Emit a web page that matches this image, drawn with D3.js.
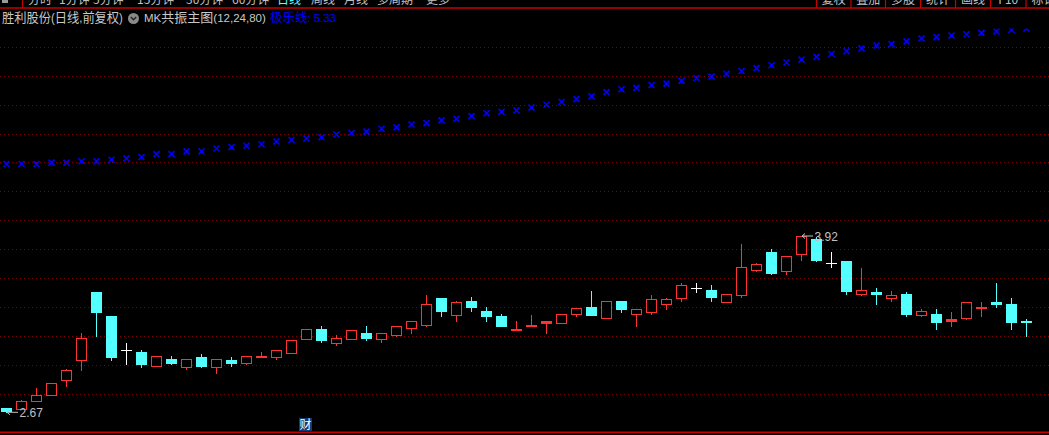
<!DOCTYPE html>
<html><head><meta charset="utf-8">
<script src="https://cdn.jsdelivr.net/npm/d3@7/dist/d3.min.js"></script>
<style>html,body{margin:0;padding:0;background:#000;overflow:hidden}svg{display:block}</style>
</head><body><svg id="c" width="1049" height="435"></svg>
<script>
// ---- data (daily bars, 前复权) ----
const openP  = [2.70,2.69,2.75,2.79,2.90,3.04,3.52,3.35,3.11,3.10,3.00,3.05,2.99,3.06,2.99,3.04,3.02,3.06,3.06,3.09,3.19,3.26,3.16,3.19,3.23,3.19,3.22,3.27,3.29,3.48,3.36,3.46,3.39,3.35,3.25,3.28,3.30,3.30,3.37,3.42,3.34,3.46,3.37,3.38,3.44,3.48,3.55,3.54,3.45,3.50,3.68,3.81,3.67,3.79,3.90,3.73,3.74,3.51,3.52,3.48,3.51,3.36,3.37,3.32,3.34,3.41,3.45,3.44,3.32];
const highP  = [2.70,2.76,2.84,2.88,2.98,3.23,3.52,3.35,3.16,3.11,3.07,3.07,3.05,3.08,3.05,3.06,3.07,3.10,3.11,3.18,3.26,3.28,3.22,3.25,3.28,3.23,3.28,3.32,3.50,3.48,3.46,3.49,3.42,3.37,3.32,3.36,3.32,3.37,3.41,3.53,3.46,3.46,3.40,3.50,3.48,3.59,3.59,3.57,3.51,3.86,3.73,3.83,3.78,3.92,3.91,3.81,3.74,3.69,3.55,3.53,3.52,3.40,3.40,3.38,3.45,3.45,3.59,3.48,3.33];
const lowP   = [2.67,2.69,2.75,2.79,2.86,2.97,3.21,3.04,3.01,2.99,3.00,3.01,2.98,2.99,2.95,3.00,3.01,3.06,3.05,3.09,3.19,3.17,3.15,3.19,3.18,3.17,3.21,3.23,3.28,3.35,3.32,3.39,3.32,3.28,3.25,3.28,3.23,3.30,3.35,3.36,3.34,3.38,3.28,3.37,3.40,3.46,3.52,3.46,3.45,3.49,3.67,3.65,3.65,3.75,3.74,3.70,3.51,3.50,3.44,3.46,3.35,3.35,3.26,3.28,3.33,3.35,3.42,3.26,3.21];
const closeP = [2.68,2.75,2.79,2.88,2.97,3.20,3.38,3.06,3.11,3.01,3.07,3.02,3.05,3.00,3.05,3.02,3.07,3.07,3.11,3.18,3.26,3.18,3.20,3.25,3.20,3.23,3.28,3.32,3.44,3.39,3.45,3.42,3.35,3.28,3.26,3.29,3.32,3.37,3.41,3.36,3.46,3.40,3.40,3.47,3.47,3.57,3.55,3.49,3.51,3.70,3.72,3.66,3.78,3.92,3.75,3.73,3.53,3.54,3.51,3.50,3.37,3.39,3.31,3.33,3.45,3.42,3.44,3.31,3.31];
// 极乐线 (MK共振主图)
const jileLine = [4.37,4.37,4.37,4.38,4.38,4.39,4.39,4.40,4.41,4.42,4.44,4.44,4.46,4.46,4.48,4.49,4.50,4.51,4.53,4.54,4.55,4.56,4.58,4.59,4.60,4.62,4.63,4.65,4.66,4.68,4.69,4.71,4.73,4.74,4.75,4.77,4.79,4.81,4.83,4.85,4.88,4.90,4.91,4.93,4.94,4.96,4.98,4.99,5.01,5.03,5.05,5.07,5.09,5.11,5.13,5.15,5.17,5.19,5.21,5.22,5.24,5.26,5.27,5.28,5.29,5.30,5.31,5.32,5.33];
// texts
const menuLeft  = ["分时","1分钟","5分钟","15分钟","30分钟","60分钟","日线","周线","月线","多周期","更多"];
const menuRight = ["复权","叠加","多股","统计","画线","F10","标记"];
const stockTitle = "胜利股份(日线,前复权)";
const indicatorTitle = "MK共振主图(12,24,80)";
const jileName = "极乐线";

// ---- layout ----
const W = 1049, H = 435;
const svg = d3.select("#c");
svg.append("rect").attr("width", W).attr("height", H).attr("fill", "#000");

const n = closeP.length;
const x = d3.scaleBand().domain(d3.range(n)).range([-1, -1 + 15 * n]);
const cxOf = i => x(i) + x.bandwidth() / 2;
const y = d3.scaleLinear().domain([d3.min(lowP), d3.max(highP)]).range([412.3, 236]);

const RED = "#ff3232", CYAN = "#54ffff", WHITE = "#ffffff", BLUE = "#0000ff", GRIDC = "#800000", TXT = "#c0c0c0";

// grid (dotted)
const gridRows = d3.range(13).map(k => Math.floor(47.3 + k * 28.917));
svg.append("g").attr("shape-rendering", "crispEdges").selectAll("line").data(gridRows).join("line")
  .attr("x1", 0).attr("x2", W).attr("y1", d => d + 0.5).attr("y2", d => d + 0.5)
  .attr("stroke", GRIDC).attr("stroke-width", 1).attr("stroke-dasharray", "1,3");

// top menu bar (cut off by the window edge, as in the screenshot)
const topBar = svg.append("g");
topBar.append("line").attr("x1", 0).attr("x2", W).attr("y1", 8).attr("y2", 8).attr("stroke", "#c80000").attr("stroke-width", 1.4);
topBar.append("line").attr("x1", 22.5).attr("x2", 22.5).attr("y1", 0).attr("y2", 8).attr("stroke", "#c80000");
topBar.append("rect").attr("x", 2).attr("y", 0).attr("width", 6).attr("height", 3).attr("fill", "#9a9a9a");
const leftX = [28, 59, 93, 137, 186, 232, 277, 311, 344, 377, 426];
menuLeft.forEach((t, i) => {
  topBar.append("text").attr("x", leftX[i]).attr("y", 4.2)
    .attr("font-family", "'Noto Sans CJK SC','Liberation Sans'").attr("font-size", 12)
    .attr("fill", t === "日线" ? CYAN : TXT).text(t);
});
const seps = [816.5, 851, 885.5, 920.5, 955.5, 990.5, 1026];
seps.forEach(s => topBar.append("line").attr("x1", s).attr("x2", s).attr("y1", 0).attr("y2", 8).attr("stroke", "#c80000").attr("stroke-width", 1.2));
menuRight.forEach((t, i) => {
  const a = seps[i], b = i + 1 < seps.length ? seps[i + 1] : a + 35;
  topBar.append("text").attr("x", (a + b) / 2).attr("y", 4.2).attr("text-anchor", "middle")
    .attr("font-family", "'Noto Sans CJK SC','Liberation Sans'").attr("font-size", 12)
    .attr("fill", TXT).text(t);
});

// rich text helper: CJK runs and Latin runs with different faces, fitted to a width
function rich(sel, x0, y0, str, fill, cjkSize, latSize, fitW) {
  const t = sel.append("text").attr("x", x0).attr("y", y0).attr("fill", fill);
  str.split(/([\u3000-\u9fff\uff00-\uffef]+)/).filter(s => s).forEach(s => {
    const cjk = /[\u3000-\u9fff\uff00-\uffef]/.test(s);
    t.append("tspan")
      .attr("font-family", cjk ? "'Noto Sans CJK SC'" : "'Liberation Sans'")
      .attr("font-size", cjk ? cjkSize : latSize).text(s);
  });
  if (fitW) {
    const w = t.node().getComputedTextLength();
    if (w > 0) t.attr("transform", `translate(${x0},0) scale(${fitW / w},1) translate(${-x0},0)`);
  }
  return t;
}

// title row
const title = svg.append("g");
rich(title, 2, 22.5, stockTitle, "#c8c8c8", 13, 12, 121);
title.append("circle").attr("cx", 133.5).attr("cy", 18.5).attr("r", 5.5).attr("fill", "#8a8a8a");
title.append("path").attr("d", "M130.8,17 L133.5,19.8 L136.2,17").attr("fill", "none").attr("stroke", "#222").attr("stroke-width", 1.4);
rich(title, 144, 22.5, indicatorTitle, "#c8c8c8", 13, 11.5, 122);
rich(title, 270, 22.5, jileName + ": " + d3.format(".2f")(jileLine[n - 1]), BLUE, 12.5, 11.5, 66);

// clip for plot
svg.append("clipPath").attr("id", "plot").append("rect").attr("x", 0).attr("y", 28.5).attr("width", W).attr("height", 403);
const plot = svg.append("g").attr("clip-path", "url(#plot)");

// 极乐线 markers (× glyphs drawn above the value point)
plot.append("g").selectAll("path").data(jileLine).join("path")
  .attr("transform", (d, i) => `translate(${cxOf(i)},${y(d) - 8.5})`)
  .attr("d", "M-3,-3L3,3M3,-3L-3,3")
  .attr("stroke", BLUE).attr("stroke-width", 1.6).attr("fill", "none");

// candles
const cg = plot.append("g");
for (let i = 0; i < n; i++) {
  const o = openP[i], h = highP[i], l = lowP[i], c = closeP[i];
  const cx = cxOf(i);
  const yo = Math.round(y(o)), yc = Math.round(y(c)), yh = Math.round(y(h)), yl = Math.round(y(l));
  if (c > o) {
    const t = yc, b = yo;
    if (yh < t) cg.append("line").attr("x1", cx).attr("x2", cx).attr("y1", yh).attr("y2", t).attr("stroke", RED);
    if (yl > b) cg.append("line").attr("x1", cx).attr("x2", cx).attr("y1", b).attr("y2", yl + 1).attr("stroke", RED);
    if (b - t <= 2) {
      cg.append("rect").attr("x", cx - 5.5).attr("y", t).attr("width", 11).attr("height", Math.max(b - t, 1) + 1).attr("fill", RED);
    } else {
      cg.append("rect").attr("x", cx - 5).attr("y", t + 0.5).attr("width", 10).attr("height", b - t)
        .attr("fill", "#000").attr("stroke", RED).attr("stroke-width", 1);
    }
  } else if (c < o) {
    cg.append("line").attr("x1", cx).attr("x2", cx).attr("y1", yh).attr("y2", yl + 1).attr("stroke", CYAN);
    cg.append("rect").attr("x", cx - 5.5).attr("y", yo).attr("width", 11).attr("height", Math.max(yc - yo, 1) + 1).attr("fill", CYAN);
  } else {
    cg.append("line").attr("x1", cx).attr("x2", cx).attr("y1", yh).attr("y2", yl + 1).attr("stroke", WHITE);
    cg.append("line").attr("x1", cx - 5.5).attr("x2", cx + 5.5).attr("y1", yo + 0.5).attr("y2", yo + 0.5).attr("stroke", WHITE);
  }
}

// min / max labels
function mark(i, v) {
  const tx = Math.floor(cxOf(i)), ty = y(v);
  const g = plot.append("g");
  g.append("path").attr("d", `M${tx + 1},${ty} L${tx + 12},${ty} M${tx + 4},${ty - 2.5} L${tx + 1},${ty} L${tx + 4},${ty + 2.5}`)
    .attr("stroke", TXT).attr("fill", "none").attr("stroke-width", 1);
  g.append("text").attr("x", tx + 13.5).attr("y", ty + 5).attr("font-family", "'Liberation Sans'").attr("font-size", 12)
    .attr("fill", TXT).text(d3.format(".2f")(v));
}
mark(d3.minIndex(lowP), d3.min(lowP));
mark(d3.maxIndex(highP), d3.max(highP));

// bottom line & 财 badge
svg.append("line").attr("x1", 0).attr("x2", W).attr("y1", 432.3).attr("y2", 432.3).attr("stroke", "#c80000").attr("stroke-width", 1.4);
svg.append("rect").attr("x", 299).attr("y", 418).attr("width", 13).attr("height", 13).attr("fill", "#0c3c78");
svg.append("text").attr("x", 305.5).attr("y", 429).attr("text-anchor", "middle").attr("font-family", "'Noto Sans CJK SC'")
  .attr("font-size", 12).attr("fill", "#fff").text("财");
</script>
</body></html>
